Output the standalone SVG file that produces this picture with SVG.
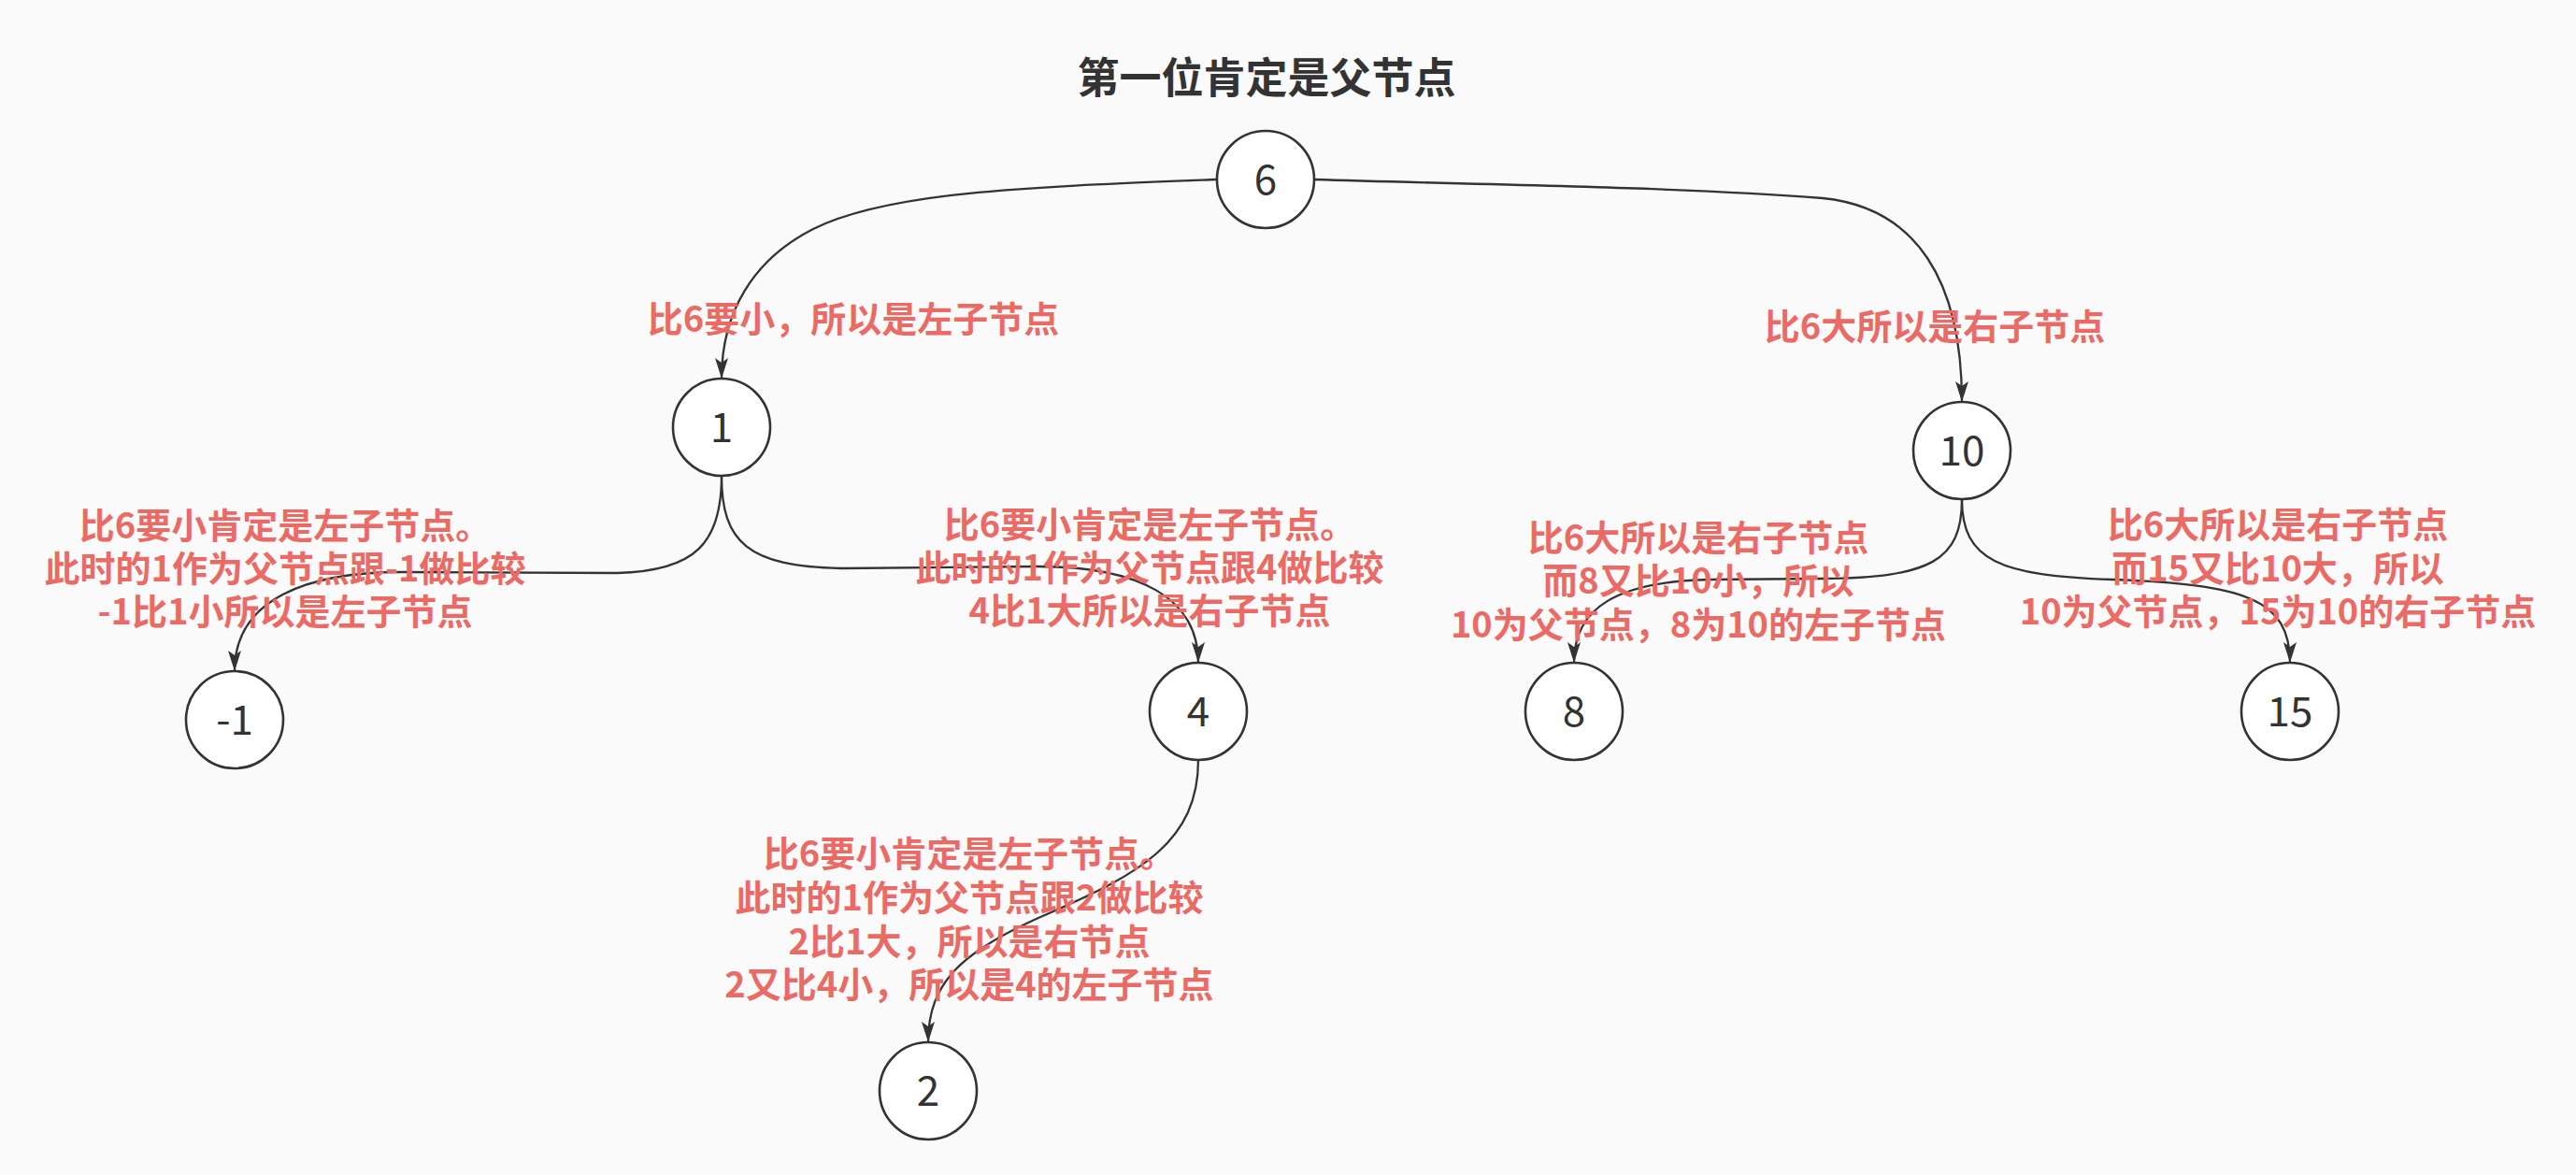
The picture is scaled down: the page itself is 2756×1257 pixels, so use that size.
<svg xmlns="http://www.w3.org/2000/svg" width="2756" height="1257" viewBox="0 0 2756 1257">
<style>
.bg{fill:#fafafa}
.node circle{fill:#ffffff;stroke:#333333;stroke-width:2.6}
.node text{font-family:"Noto Sans CJK SC","Liberation Sans",sans-serif;font-size:44px;fill:#333333;text-anchor:middle}
.edge{fill:none;stroke:#333333;stroke-width:2.3;marker-end:url(#arr)}
.lbl{font-family:"Noto Sans CJK SC","Liberation Sans",sans-serif;font-size:38px;font-weight:bold;fill:#EA6B66;text-anchor:middle}
.title{font-family:"Noto Sans CJK SC","Liberation Sans",sans-serif;font-size:45px;font-weight:bold;fill:#333333;text-anchor:middle}
</style>
<defs>
<marker id="arr" markerUnits="userSpaceOnUse" markerWidth="24" markerHeight="16" refX="22" refY="7" orient="auto">
<path d="M0,0 L22,7 L0,14 L5,7 Z" fill="#333333"/>
</marker>
</defs>
<rect class="bg" x="0" y="0" width="2756" height="1257"/>
<text class="title" x="1355" y="100">第一位肯定是父节点</text>
<g id="connectors">
<path class="edge" d="M1301,192 C1100,200 950,205 870,245 C805,278 772,335 772,405"/>
<path class="edge" d="M1405,192 C1600,198 1800,200 1950,212 C2050,222 2099,300 2099,430"/>
<path class="edge" d="M772,509 C772,580 745,611 660,613 L430,612 C330,612 251,640 251,718"/>
<path class="edge" d="M772,509 C772,580 800,606 900,608 L1110,606 C1220,606 1282,640 1282,709"/>
<path class="edge" d="M1282,813 C1282,900 1220,935 1120,978 C1030,1017 993,1050 993,1115"/>
<path class="edge" d="M2099,534 C2099,600 2065,618 1950,619 L1830,620 C1730,622 1684,650 1684,709"/>
<path class="edge" d="M2099,534 C2099,600 2140,616 2260,620 C2400,625 2450,640 2450,709"/>
</g>
<g id="node-6" class="node"><circle cx="1354" cy="192" r="52"/><text x="1354" y="208">6</text></g>
<g id="node-1" class="node"><circle cx="772" cy="457" r="52"/><text x="772" y="473">1</text></g>
<g id="node-10" class="node"><circle cx="2099" cy="482" r="52"/><text x="2099" y="498">10</text></g>
<g id="node-m1" class="node"><circle cx="251" cy="770" r="52"/><text x="251" y="786">-1</text></g>
<g id="node-4" class="node"><circle cx="1282" cy="761" r="52"/><text x="1282" y="777">4</text></g>
<g id="node-8" class="node"><circle cx="1684" cy="761" r="52"/><text x="1684" y="777">8</text></g>
<g id="node-15" class="node"><circle cx="2450" cy="761" r="52"/><text x="2450" y="777">15</text></g>
<g id="node-2" class="node"><circle cx="993" cy="1167" r="52"/><text x="993" y="1183">2</text></g>
<g id="labels">
<text class="lbl" x="913" y="355">比6要小，所以是左子节点</text>
<text class="lbl" x="2070" y="363">比6大所以是右子节点</text>
<text class="lbl"><tspan x="305" y="576">比6要小肯定是左子节点。</tspan><tspan x="305" y="622">此时的1作为父节点跟-1做比较</tspan><tspan x="305" y="668">-1比1小所以是左子节点</tspan></text>
<text class="lbl"><tspan x="1230" y="575">比6要小肯定是左子节点。</tspan><tspan x="1230" y="621">此时的1作为父节点跟4做比较</tspan><tspan x="1230" y="667">4比1大所以是右子节点</tspan></text>
<text class="lbl"><tspan x="1817" y="589">比6大所以是右子节点</tspan><tspan x="1817" y="635">而8又比10小，所以</tspan><tspan x="1817" y="682">10为父节点，8为10的左子节点</tspan></text>
<text class="lbl"><tspan x="2437" y="575">比6大所以是右子节点</tspan><tspan x="2437" y="622">而15又比10大，所以</tspan><tspan x="2437" y="668">10为父节点，15为10的右子节点</tspan></text>
<text class="lbl"><tspan x="1037" y="927">比6要小肯定是左子节点。</tspan><tspan x="1037" y="974">此时的1作为父节点跟2做比较</tspan><tspan x="1037" y="1021">2比1大，所以是右节点</tspan><tspan x="1037" y="1067">2又比4小，所以是4的左子节点</tspan></text>
</g>
</svg>
